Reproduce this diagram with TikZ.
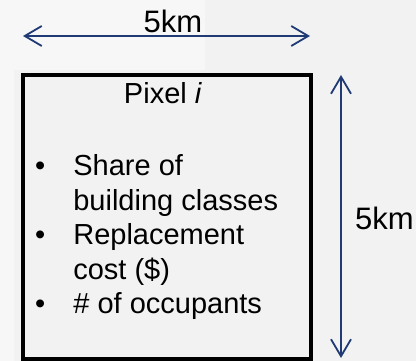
\documentclass[tikz,border=0pt]{standalone}
\usepackage{fontspec}
\setmainfont{Liberation Sans}
\usetikzlibrary{positioning, arrows.meta}

\definecolor{dimblue}{HTML}{1F3A74}
\definecolor{bggray}{HTML}{F2F2F2}
\definecolor{bglight}{HTML}{F7F7F7}

\begin{document}
\begin{tikzpicture}[
    x=1pt, y=-1pt,
    every node/.style={inner sep=0pt, font=\fontsize{29}{34.5}\selectfont},
    dimline/.style={draw=dimblue, line width=1.8pt,
      {Straight Barb[length=17pt, width=20pt]}-{Straight Barb[length=17pt, width=20pt]}},
    dimlabel/.style={font=\fontsize{31}{36}\selectfont}
]

% Background, slightly lighter towards the top left
\fill[bggray] (0,0) rectangle (416,361);
\fill[bglight] (0,0) rectangle (205,70);
\fill[bglight] (0,0) rectangle (14,361);
\useasboundingbox (0,0) rectangle (416,361);

% The pixel cell
\node[draw, fill=bggray, line width=4pt, minimum width=288pt, minimum height=284pt] (pixel) at (167,217) {};

% Title and attribute list
\node[anchor=base] (title) at (163,104) {Pixel \textit{i}};
\node[anchor=base west] (attrs) at (35,176) {%
  \begin{tabular}[t]{@{}l@{\hspace{28pt}}l@{}}
    \textbullet & Share of\\
                & building classes\\
    \textbullet & Replacement\\
                & cost (\$)\\
    \textbullet & \# of occupants
  \end{tabular}};

% Width dimension
\coordinate (wl) at (23,36);
\coordinate (wr) at (310,36);
\draw[dimline] (wl) -- (wr);
\node[dimlabel, anchor=base] (wlabel) at (173,33) {5km};

% Height dimension
\coordinate (ht) at (341,75);
\coordinate (hb) at (341,358);
\draw[dimline] (ht) -- (hb);
\node[dimlabel, anchor=base west] (hlabel) at (355,230) {5km};

\end{tikzpicture}
\end{document}
